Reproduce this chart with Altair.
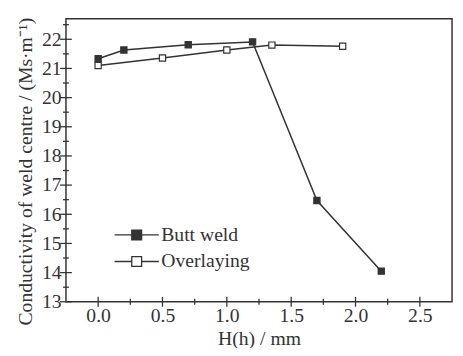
import altair as alt
import pandas as pd

series = ["Butt weld", "Overlaying"]
butt_x = [0.0, 0.2, 0.7, 1.2, 1.7, 2.2]
butt_y = [21.33, 21.63, 21.81, 21.91, 16.47, 14.05]
over_x = [0.0, 0.5, 1.0, 1.35, 1.9]
over_y = [21.10, 21.36, 21.63, 21.80, 21.76]

x_label_values = [0.0, 0.5, 1.0, 1.5, 2.0, 2.5]
x_minor_values = [0.25, 0.75, 1.25, 1.75, 2.25]
y_label_values = [13, 14, 15, 16, 17, 18, 19, 20, 21, 22]
y_minor_values = [13.5, 14.5, 15.5, 16.5, 17.5, 18.5, 19.5, 20.5, 21.5, 22.5]

rows = []
for x, y in zip(butt_x, butt_y):
    rows.append({"x": x, "y": y, "series": series[0]})
for x, y in zip(over_x, over_y):
    rows.append({"x": x, "y": y, "series": series[1]})
df = pd.DataFrame(rows)

xmaj = pd.DataFrame({"x": x_label_values})
xmin = pd.DataFrame({"x": x_minor_values})
ymaj = pd.DataFrame({"y": y_label_values})
ymin = pd.DataFrame({"y": y_minor_values})

INK = "#333333"
FONT = "Liberation Serif"
W, H = 393, 288

xscale = alt.Scale(domain=[-0.25, 2.75], nice=False, zero=False)
yscale = alt.Scale(domain=[13, 22.7], nice=False, zero=False)

xaxis = alt.Axis(
    orient="bottom", values=x_label_values, format=".1f", ticks=False,
    domain=False, grid=False, labelPadding=4, labelFont=FONT,
    labelFontSize=20, labelColor=INK, title="H(h) / mm", titleFont=FONT,
    titleFontSize=20, titleFontWeight="normal", titleColor=INK,
    titlePadding=3)
yaxis = alt.Axis(
    orient="left", values=y_label_values, format="d", ticks=False,
    domain=False, grid=False, labelPadding=5, labelFont=FONT,
    labelFontSize=20, labelColor=INK,
    title="Conductivity of weld centre / (Ms·m⁻¹)", titleFont=FONT,
    titleFontSize=20, titleFontWeight="normal", titleColor=INK,
    titleX=-41, titleY=155, titleBaseline="middle")

X = alt.X("x:Q", scale=xscale, axis=xaxis)
Y = alt.Y("y:Q", scale=yscale, axis=yaxis)

lines = alt.Chart(df).mark_line(color=INK, strokeWidth=1.5).encode(
    x=X, y=Y, detail="series:N",
)

legend_path = "M-4.5,0H-1M-1,-1H1V1H-1ZM1,0H4.5"

points = alt.Chart(df).mark_point(shape="square", size=40, filled=True, stroke=INK,
                                  strokeWidth=1.2, opacity=1).encode(
    x=X, y=Y,
    fill=alt.Fill("series:N", scale=alt.Scale(domain=series, range=[INK, "white"]),
                  legend=alt.Legend(
                      title=None, orient="none", legendX=62, legendY=210,
                      symbolType=legend_path, symbolSize=100,
                      symbolStrokeColor=INK, symbolStrokeWidth=1.3,
                      labelFont=FONT, labelFontSize=20, labelColor=INK,
                      labelOffset=15, rowPadding=7)),
)

def ytick(data, length):
    return alt.Chart(data).mark_tick(
        orient="horizontal", size=2 * length, thickness=1.3, color=INK, opacity=1
    ).encode(y=Y, x=alt.value(0))

def xtick(data, length):
    return alt.Chart(data).mark_tick(
        orient="vertical", size=2 * length, thickness=1.3, color=INK, opacity=1
    ).encode(x=X, y=alt.value(H))

chart = alt.layer(
    lines, points,
    ytick(ymaj, 6), ytick(ymin, 3), xtick(xmaj, 5), xtick(xmin, 3),
).properties(
    width=W, height=H,
    autosize=alt.AutoSizeParams(type="none"),
    padding={"left": 59, "top": 8, "right": 3, "bottom": 44},
).configure_view(
    stroke=INK, strokeWidth=1.5
)

chart.save("out.html", embed_options={"renderer": "svg", "actions": False})
